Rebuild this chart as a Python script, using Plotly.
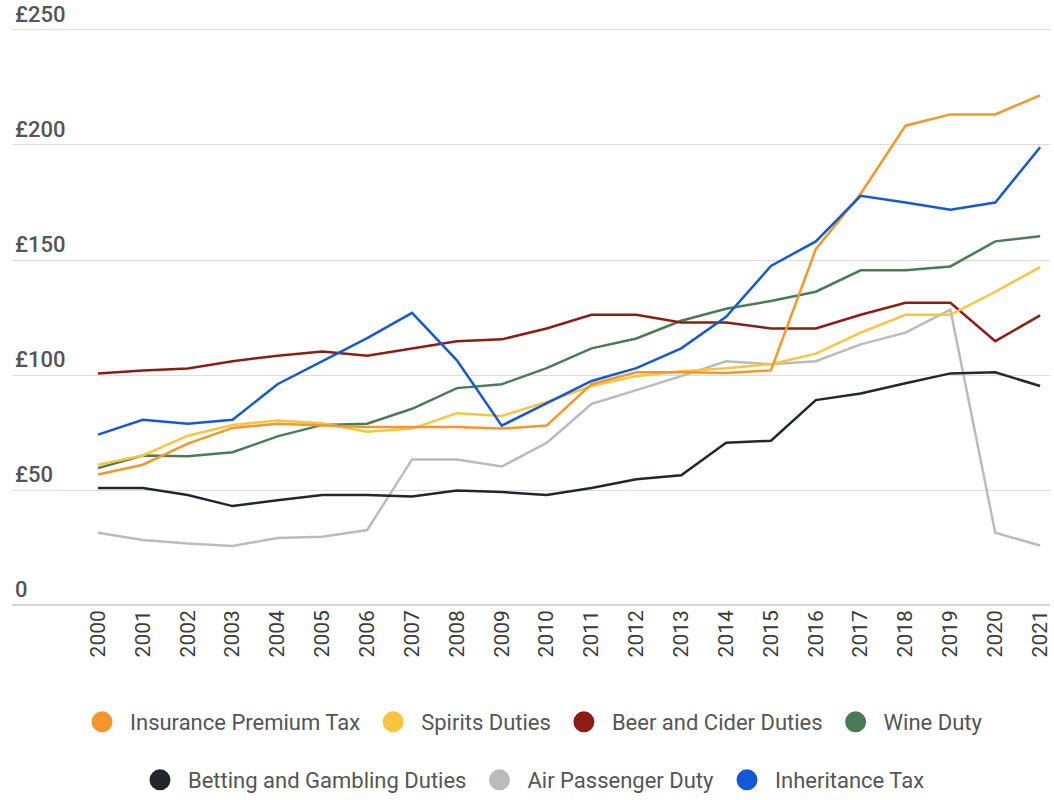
import plotly.graph_objects as go

years = [str(y) for y in range(2000, 2022)]

insurance_premium_tax = [56.7, 61, 70.2, 77, 78.8, 78, 77.4, 77.4, 77.4, 76.7, 78, 96, 101.2, 101.2,
                         100.9, 102, 154.7, 178.8, 208.4, 213.3, 213.3, 221.6]
spirits_duties = [61, 65, 73.6, 78.3, 80.2, 79, 75.3, 76.7, 83.4, 82.2, 88.3, 95.2, 99.5, 101.6,
                  102.9, 104.7, 109.3, 118.4, 126.2, 126.2, 136.2, 146.9]
beer_cider_duties = [100.7, 102, 102.8, 106, 108.4, 110.2, 108.4, 111.6, 114.7, 115.5, 120.2, 126.2, 126.2, 122.8,
                     122.8, 120.2, 120.2, 126.2, 131.4, 131.4, 114.7, 125.9]
wine_duty = [59.5, 65, 64.7, 66.4, 73.3, 78.3, 78.8, 85.3, 94.3, 96, 103, 111.6, 115.9, 123.6,
             128.8, 132.2, 136.2, 145.5, 145.5, 147.2, 158.1, 160.3]
betting_gambling = [50.9, 50.9, 47.8, 43, 45.5, 47.8, 47.8, 47.2, 49.8, 49.1, 47.8, 50.9, 54.7, 56.4,
                    70.5, 71.4, 89.1, 92, 96.4, 100.7, 101.2, 95.2]
air_passenger_duty = [31.4, 28.3, 26.7, 25.7, 29.1, 29.7, 32.6, 63.3, 63.3, 60.2, 70.5, 87.4, 93.4, 99.5,
                      106, 104.7, 106, 113.3, 118.4, 128.4, 31.4, 25.9]
inheritance_tax = [74.1, 80.5, 78.8, 80.5, 96, 106, 116, 127, 106.4, 78, 87.8, 97.4, 103, 111.6,
                   125.3, 147.4, 158.1, 177.9, 175, 171.9, 175, 199]

y_tick_vals = [0, 50, 100, 150, 200, 250]
y_tick_text = ["0", "£50", "£100", "£150", "£200", "£250"]

series = [
    ("Insurance Premium Tax", insurance_premium_tax, "#F4962A", "legend"),
    ("Spirits Duties", spirits_duties, "#F9C43E", "legend"),
    ("Beer and Cider Duties", beer_cider_duties, "#8E1C14", "legend"),
    ("Wine Duty", wine_duty, "#4A7B56", "legend"),
    ("Betting and Gambling Duties", betting_gambling, "#23262F", "legend2"),
    ("Air Passenger Duty", air_passenger_duty, "#BBBBBB", "legend2"),
    ("Inheritance Tax", inheritance_tax, "#1558D6", "legend2"),
]

fig = go.Figure()
order = [5, 4, 3, 2, 1, 0, 6]
for i in order:
    name, vals, color, lg = series[i]
    fig.add_trace(go.Scatter(x=years, y=vals, mode="lines", name=name,
                             line=dict(color=color, width=2.5), showlegend=False,
                             hoverinfo="skip"))
for name, vals, color, lg in series:
    fig.add_trace(go.Scatter(x=[None], y=[None], mode="markers", name=name,
                             marker=dict(color=color, size=16, symbol="circle",
                                         line=dict(color=color, width=5)),
                             legend=lg, showlegend=True))

legend_font = dict(family="Roboto, sans-serif", size=22, color="#555555")
fig.update_layout(
    width=1054, height=800,
    margin=dict(l=12, r=4, t=0, b=195, autoexpand=False),
    paper_bgcolor="white", plot_bgcolor="white",
    xaxis=dict(type="category", categoryorder="array", categoryarray=years,
               range=[-1.917, 21.22], tickangle=-90, showgrid=False, automargin=False,
               tickfont=dict(family="Roboto, sans-serif", size=21, color="#3A3A3A"),
               ticks="", showline=False, zeroline=False, fixedrange=True),
    yaxis=dict(range=[0, 263.04], tickvals=y_tick_vals, ticktext=y_tick_text, automargin=False,
               ticklabelposition="inside top", ticklabeloverflow="allow",
               showgrid=True, gridcolor="#DCDCDC", gridwidth=1,
               zeroline=True, zerolinecolor="#D6D6D6", zerolinewidth=2,
               tickfont=dict(family="Roboto, sans-serif", size=22, color="#555555", weight=500),
               ticks="", showline=False, fixedrange=True),
    legend=dict(orientation="h", x=0.5, xanchor="center", y=-0.1934, yanchor="middle",
                font=legend_font, itemsizing="trace", itemwidth=46,
                bgcolor="rgba(0,0,0,0)", traceorder="normal"),
    legend2=dict(orientation="h", x=0.5, xanchor="center", y=-0.2893, yanchor="middle",
                 font=legend_font, itemsizing="trace", itemwidth=46,
                 bgcolor="rgba(0,0,0,0)", traceorder="normal"),
    showlegend=True,
)

fig.write_html("out.html", config={"displayModeBar": False},
               post_script="document.body.style.margin='0';")
